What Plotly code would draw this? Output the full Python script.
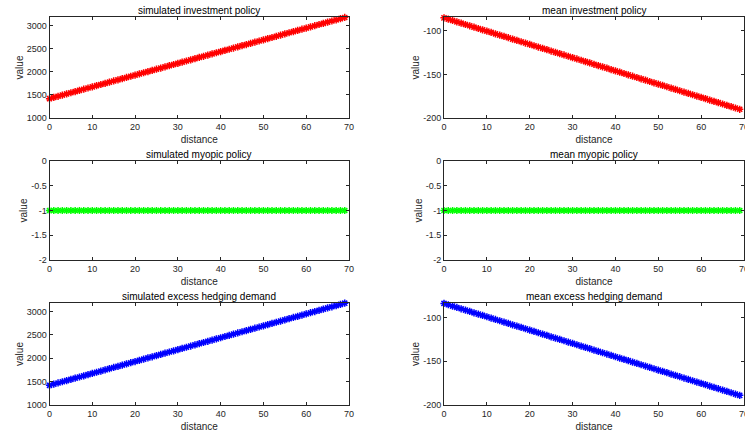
import plotly.graph_objects as go

distance = list(range(70))

sim_investment = [1420, 1446, 1471, 1497, 1522, 1548, 1573, 1599, 1624, 1650,
                  1675, 1701, 1726, 1752, 1777, 1803, 1828, 1854, 1879, 1905,
                  1930, 1956, 1981, 2007, 2032, 2058, 2083, 2109, 2134, 2160,
                  2185, 2211, 2236, 2262, 2287, 2313, 2338, 2364, 2389, 2415,
                  2440, 2466, 2491, 2517, 2542, 2568, 2593, 2619, 2644, 2670,
                  2695, 2721, 2746, 2772, 2797, 2823, 2848, 2874, 2899, 2925,
                  2950, 2976, 3001, 3027, 3052, 3078, 3103, 3129, 3154, 3180]

mean_investment = [-85.0, -86.5, -88.0, -89.6, -91.1, -92.6, -94.1, -95.7, -97.2, -98.7,
                   -100.2, -101.7, -103.3, -104.8, -106.3, -107.8, -109.4, -110.9, -112.4, -113.9,
                   -115.4, -117.0, -118.5, -120.0, -121.5, -123.1, -124.6, -126.1, -127.6, -129.1,
                   -130.7, -132.2, -133.7, -135.2, -136.7, -138.3, -139.8, -141.3, -142.8, -144.4,
                   -145.9, -147.4, -148.9, -150.4, -152.0, -153.5, -155.0, -156.5, -158.1, -159.6,
                   -161.1, -162.6, -164.1, -165.7, -167.2, -168.7, -170.2, -171.8, -173.3, -174.8,
                   -176.3, -177.8, -179.4, -180.9, -182.4, -183.9, -185.5, -187.0, -188.5, -190.0]

sim_myopic = [-1] * 70
mean_myopic = [-1] * 70

sim_excess = [1421, 1447, 1472, 1498, 1523, 1549, 1574, 1600, 1625, 1651,
              1676, 1702, 1727, 1753, 1778, 1804, 1829, 1855, 1880, 1906,
              1931, 1957, 1982, 2008, 2033, 2059, 2084, 2110, 2135, 2161,
              2186, 2212, 2237, 2263, 2288, 2314, 2339, 2365, 2390, 2416,
              2441, 2467, 2492, 2518, 2543, 2569, 2594, 2620, 2645, 2671,
              2696, 2722, 2747, 2773, 2798, 2824, 2849, 2875, 2900, 2926,
              2951, 2977, 3002, 3028, 3053, 3079, 3104, 3130, 3155, 3181]

mean_excess = [-84.0, -85.5, -87.0, -88.6, -90.1, -91.6, -93.1, -94.7, -96.2, -97.7,
               -99.2, -100.7, -102.3, -103.8, -105.3, -106.8, -108.4, -109.9, -111.4, -112.9,
               -114.4, -116.0, -117.5, -119.0, -120.5, -122.1, -123.6, -125.1, -126.6, -128.1,
               -129.7, -131.2, -132.7, -134.2, -135.7, -137.3, -138.8, -140.3, -141.8, -143.4,
               -144.9, -146.4, -147.9, -149.4, -151.0, -152.5, -154.0, -155.5, -157.1, -158.6,
               -160.1, -161.6, -163.1, -164.7, -166.2, -167.7, -169.2, -170.8, -172.3, -173.8,
               -175.3, -176.8, -178.4, -179.9, -181.4, -182.9, -184.5, -186.0, -187.5, -189.0]

titles = ["simulated investment policy", "mean investment policy",
          "simulated myopic policy", "mean myopic policy",
          "simulated excess hedging demand", "mean excess hedging demand"]
series = [sim_investment, mean_investment, sim_myopic, mean_myopic, sim_excess, mean_excess]
colors = ["#ff0000", "#ff0000", "#00ff00", "#00ff00", "#0000ff", "#0000ff"]
yranges = [[1000, 3190], [-200, -84], [-2, 0], [-2, 0], [1000, 3185], [-200, -83.5]]
yticks = [[1000, 1500, 2000, 2500, 3000], [-200, -150, -100],
          [-2, -1.5, -1, -0.5, 0], [-2, -1.5, -1, -0.5, 0],
          [1000, 1500, 2000, 2500, 3000], [-200, -150, -100]]
xticks = [0, 10, 20, 30, 40, 50, 60, 70]

W, H = 745, 434
xdoms = [[49.5 / W, 349 / W], [444 / W, 744 / W]]
rows_px = [(17, 118), (161, 260), (303, 405)]
ydoms = [[1 - b / H, 1 - t / H] for t, b in rows_px]

fig = go.Figure()
font = "Liberation Sans, Arial, Helvetica, sans-serif"
axcol = "#262626"

for k in range(6):
    r, c = divmod(k, 2)
    xa = "x" if k == 0 else f"x{k+1}"
    ya = "y" if k == 0 else f"y{k+1}"
    fig.add_trace(go.Scatter(
        x=distance, y=series[k], mode="lines+markers",
        line=dict(color=colors[k], width=0.8),
        marker=dict(symbol="asterisk-open", size=6, color=colors[k],
                    line=dict(color=colors[k], width=1.5)),
        xaxis=xa, yaxis=ya, showlegend=False, cliponaxis=False, hoverinfo="skip"))
    common = dict(showline=True, linecolor=axcol, linewidth=1, mirror="ticks",
                  ticks="inside", ticklen=3, tickcolor=axcol, showgrid=False,
                  zeroline=False, automargin=False, ticklabeloverflow="allow",
                  tickfont=dict(size=9, color=axcol, family=font))
    fig.layout["xaxis" if k == 0 else f"xaxis{k+1}"] = dict(
        domain=xdoms[c], anchor=ya, range=[0, 70],
        tickvals=xticks, ticktext=[f"{v:g}" for v in xticks],
        title=dict(text="distance", standoff=5, font=dict(size=10, color=axcol, family=font)),
        **common)
    fig.layout["yaxis" if k == 0 else f"yaxis{k+1}"] = dict(
        domain=ydoms[r], anchor=xa, range=yranges[k], tickvals=yticks[k],
        ticktext=[f"{v:g}" for v in yticks[k]],
        title=dict(text="value", standoff=1, font=dict(size=10, color=axcol, family=font)),
        **common)
    fig.add_annotation(text=titles[k], xref="paper", yref="paper",
                       x=(xdoms[c][0] + xdoms[c][1]) / 2, y=ydoms[r][1],
                       xanchor="center", yanchor="bottom", showarrow=False,
                       font=dict(size=10, color="#000000", family=font), yshift=-1)

fig.update_layout(width=W, height=H, margin=dict(l=0, r=0, t=0, b=0),
                  paper_bgcolor="white", plot_bgcolor="white", hovermode=False)

fig.write_html("out.html", config={"displayModeBar": False, "staticPlot": True},
               post_script="document.body.style.margin='0';document.body.style.overflow='hidden';")
